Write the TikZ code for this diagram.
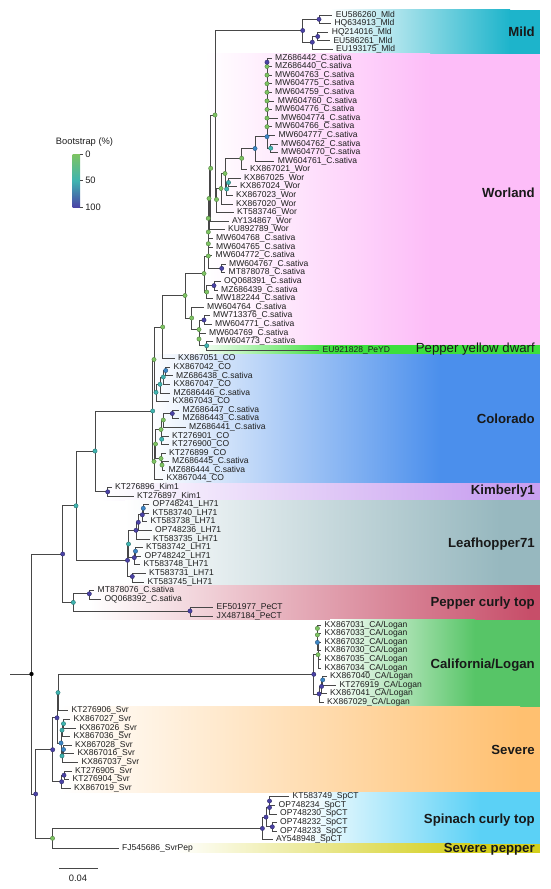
\documentclass[tikz,border=0pt]{standalone}
\usepackage{fontspec}
\setmainfont{Liberation Sans}
\definecolor{brc}{HTML}{474747}
\definecolor{txc}{HTML}{1E1E1E}
\definecolor{cG}{HTML}{7DC462}
\definecolor{cT}{HTML}{3FB4B0}
\definecolor{cB}{HTML}{3C86C6}
\definecolor{cP}{HTML}{4A42A6}
\definecolor{cMild}{HTML}{1DB4CB}
\definecolor{cWor}{HTML}{FDBDF8}
\definecolor{cPY}{HTML}{3CDF3C}
\definecolor{cCO}{HTML}{4B8FEC}
\definecolor{cKim}{HTML}{C9A0F0}
\definecolor{cLH}{HTML}{97B8BF}
\definecolor{cPC}{HTML}{C74E69}
\definecolor{cCA}{HTML}{57C567}
\definecolor{cSv}{HTML}{FFC070}
\definecolor{cSp}{HTML}{5BD1F6}
\definecolor{cSP}{HTML}{D3CF1C}
\newcommand\leaf[3]{\coordinate (t#1) at (#2,{15+8.59*#1});\node[leaflab] (n#1) at (t#1) {#3};}
\newcommand\band[5]{\shade[left color=white,right color=#5] (#3,#1) rectangle (#4,#2);\fill[#5] (#4-0.5,#1) rectangle (540,#2);}
\begin{document}
\begin{tikzpicture}[x=0.75pt,y=-0.75pt,
  br/.style={line width=0.5pt,draw=brc},
  leaflab/.style={anchor=west,inner sep=0pt,xshift=2.6pt,font=\fontsize{6.4}{7}\selectfont,text=txc},
  cladelab/.style={anchor=east,inner sep=0pt,font=\fontsize{9.9}{11}\selectfont\bfseries,text=black!90},
  legtxt/.style={inner sep=0pt,font=\fontsize{7}{8}\selectfont,text=txc},
  dotG/.style={fill=cG,draw=cG!65!black,line width=0.3pt},
  dotT/.style={fill=cT,draw=cT!65!black,line width=0.3pt},
  dotB/.style={fill=cB,draw=cB!65!black,line width=0.3pt},
  dotP/.style={fill=cP,draw=cP!65!black,line width=0.3pt}]
\useasboundingbox (0,0) rectangle (550,889);
% ---------- clade bands
\band{9.5}{53.7}{330}{510}{cMild}
\band{53.7}{345.2}{205}{430}{cWor}
\band{345.2}{354.3}{195}{330}{cPY}
\band{354.3}{483.2}{150}{440}{cCO}
\band{483.2}{500.4}{100}{500}{cKim}
\band{500.4}{585.1}{125}{500}{cLH}
\band{585.1}{619.7}{90}{530}{cPC}
\band{619.7}{706.5}{330}{475}{cCA}
\band{706.5}{792.4}{60}{520}{cSv}
\band{792.4}{843.9}{300}{480}{cSp}
\band{843.9}{852.5}{175}{470}{cSP}
% ---------- clade labels
\node[cladelab] (lMild) at (535,32) {Mild};
\node[cladelab] (lWor) at (535,193) {Worland};
\node[cladelab,font=\fontsize{9.9}{11}\selectfont] (lPY) at (535,349.5) {Pepper yellow dwarf};
\node[cladelab] (lCO) at (535,419) {Colorado};
\node[cladelab] (lKim) at (535,491.5) {Kimberly1};
\node[cladelab] (lLH) at (535,544) {Leafhopper71};
\node[cladelab] (lPC) at (535,603) {Pepper curly top};
\node[cladelab] (lCA) at (535,665) {California/Logan};
\node[cladelab] (lSv) at (535,750) {Severe};
\node[cladelab] (lSp) at (535,820) {Spinach curly top};
\node[cladelab] (lSP) at (535,849) {Severe pepper};
% ---------- leaves
\leaf{0}{332.2}{EU586260\_Mld}
\leaf{1}{330.8}{HQ634913\_Mld}
\leaf{2}{328.2}{HQ214016\_Mld}
\leaf{3}{329.8}{EU586261\_Mld}
\leaf{4}{332.5}{EU193175\_Mld}
\leaf{5}{271.5}{MZ686442\_C.sativa}
\leaf{6}{271.5}{MZ686440\_C.sativa}
\leaf{7}{271.5}{MW604763\_C.sativa}
\leaf{8}{271.5}{MW604775\_C.sativa}
\leaf{9}{271.5}{MW604759\_C.sativa}
\leaf{10}{274.2}{MW604760\_C.sativa}
\leaf{11}{271.5}{MW604776\_C.sativa}
\leaf{12}{277.5}{MW604774\_C.sativa}
\leaf{13}{271.5}{MW604766\_C.sativa}
\leaf{14}{274.8}{MW604777\_C.sativa}
\leaf{15}{277.5}{MW604762\_C.sativa}
\leaf{16}{277.5}{MW604770\_C.sativa}
\leaf{17}{274.2}{MW604761\_C.sativa}
\leaf{18}{246.5}{KX867021\_Wor}
\leaf{19}{240.5}{KX867025\_Wor}
\leaf{20}{236.5}{KX867024\_Wor}
\leaf{21}{232.5}{KX867023\_Wor}
\leaf{22}{232.5}{KX867020\_Wor}
\leaf{23}{233.5}{KT583746\_Wor}
\leaf{24}{228.5}{AY134867\_Wor}
\leaf{25}{224.5}{KU892789\_Wor}
\leaf{26}{212.5}{MW604768\_C.sativa}
\leaf{27}{212.5}{MW604765\_C.sativa}
\leaf{28}{212}{MW604772\_C.sativa}
\leaf{29}{225.5}{MW604767\_C.sativa}
\leaf{30}{225}{MT878078\_C.sativa}
\leaf{31}{220.5}{OQ068391\_C.sativa}
\leaf{32}{217.5}{MZ686439\_C.sativa}
\leaf{33}{212.5}{MW182244\_C.sativa}
\leaf{34}{203.5}{MW604764\_C.sativa}
\leaf{35}{209.5}{MW713376\_C.sativa}
\leaf{36}{211.5}{MW604771\_C.sativa}
\leaf{37}{205.5}{MW604769\_C.sativa}
\leaf{38}{212.5}{MW604773\_C.sativa}
\leaf{39}{319}{EU921828\_PeYD}
\leaf{40}{174.5}{KX867051\_CO}
\leaf{41}{170}{KX867042\_CO}
\leaf{42}{172.5}{MZ686438\_C.sativa}
\leaf{43}{170}{KX867047\_CO}
\leaf{44}{170}{MZ686446\_C.sativa}
\leaf{45}{169}{KX867043\_CO}
\leaf{46}{179}{MZ686447\_C.sativa}
\leaf{47}{179}{MZ686443\_C.sativa}
\leaf{48}{185.5}{MZ686441\_C.sativa}
\leaf{49}{168.5}{KT276901\_CO}
\leaf{50}{168.5}{KT276900\_CO}
\leaf{51}{165.5}{KT276899\_CO}
\leaf{52}{168.5}{MZ686445\_C.sativa}
\leaf{53}{165}{MZ686444\_C.sativa}
\leaf{54}{163}{KX867044\_CO}
\leaf{55}{111.5}{KT276896\_Kim1}
\leaf{56}{133.5}{KT276897\_Kim1}
\leaf{57}{149}{OP748241\_LH71}
\leaf{58}{149}{KT583740\_LH71}
\leaf{59}{147}{KT583738\_LH71}
\leaf{60}{151.5}{OP748236\_LH71}
\leaf{61}{149.5}{KT583735\_LH71}
\leaf{62}{142.5}{KT583742\_LH71}
\leaf{63}{141}{OP748242\_LH71}
\leaf{64}{140}{KT583748\_LH71}
\leaf{65}{145.5}{KT583731\_LH71}
\leaf{66}{144}{KT583745\_LH71}
\leaf{67}{94}{MT878076\_C.sativa}
\leaf{68}{100.8}{OQ068392\_C.sativa}
\leaf{69}{213}{EF501977\_PeCT}
\leaf{70}{213}{JX487184\_PeCT}
\leaf{71}{321}{KX867031\_CA/Logan}
\leaf{72}{321}{KX867033\_CA/Logan}
\leaf{73}{321}{KX867032\_CA/Logan}
\leaf{74}{321}{KX867030\_CA/Logan}
\leaf{75}{321}{KX867035\_CA/Logan}
\leaf{76}{321}{KX867034\_CA/Logan}
\leaf{77}{326.5}{KX867040\_CA/Logan}
\leaf{78}{336}{KT276919\_CA/Logan}
\leaf{79}{326.5}{KX867041\_CA/Logan}
\leaf{80}{323.5}{KX867029\_CA/Logan}
\leaf{81}{68}{KT276906\_Svr}
\leaf{82}{70}{KX867027\_Svr}
\leaf{83}{75.8}{KX867026\_Svr}
\leaf{84}{70}{KX867036\_Svr}
\leaf{85}{71.5}{KX867028\_Svr}
\leaf{86}{73.8}{KX867016\_Svr}
\leaf{87}{78}{KX867037\_Svr}
\leaf{88}{71.5}{KT276905\_Svr}
\leaf{89}{69}{KT276904\_Svr}
\leaf{90}{70.5}{KX867019\_Svr}
\leaf{91}{289}{KT583749\_SpCT}
\leaf{92}{275}{OP748234\_SpCT}
\leaf{93}{276.5}{OP748230\_SpCT}
\leaf{94}{276.5}{OP748232\_SpCT}
\leaf{95}{276.5}{OP748233\_SpCT}
\leaf{96}{272.5}{AY548948\_SpCT}
\leaf{97}{118.5}{FJ545686\_SvrPep}
% ---------- internal nodes
\coordinate (M) at (302.7,30.5);  \coordinate (M1) at (319,19.3);
\coordinate (M2) at (312.3,42.2); \coordinate (M3) at (317.7,36.5);
\coordinate (cm1) at (267,62.2);  \coordinate (ch6) at (267,66.5);
\coordinate (ch7) at (267,75.1);  \coordinate (ch8) at (267,83.7);
\coordinate (ch9) at (267,92.3);  \coordinate (ch10) at (267,100.9);
\coordinate (ch11) at (267,109.5);\coordinate (ch12) at (267,118.1);
\coordinate (ch13) at (267,126.7);\coordinate (C) at (267,136.7);
\coordinate (D) at (270.7,148.2); \coordinate (B1) at (255,148.5);
\coordinate (B0) at (241.7,158.3);\coordinate (N3) at (228.5,182.5);
\coordinate (N4) at (226.7,189);  \coordinate (N1) at (225,173.5);
\coordinate (N5) at (221,188.5);  \coordinate (WW) at (216.5,199.5);
\coordinate (W0) at (215,115);    \coordinate (X1) at (210.7,168.3);
\coordinate (W1) at (209,198.5);  \coordinate (Wu5) at (208.3,218.3);
\coordinate (Wu4) at (208.3,232); \coordinate (Wu3) at (208.3,243.7);
\coordinate (Wu1) at (208.3,256); \coordinate (K67) at (221.7,268.4);
\coordinate (Wu) at (204,273.5);  \coordinate (Wu2) at (206.7,292);
\coordinate (K31) at (214,285.6); \coordinate (Wcore) at (185,295.5);
\coordinate (Wl) at (191.7,318);  \coordinate (Wl5) at (199,329.5);
\coordinate (Wl3) at (204,320);   \coordinate (Wl6) at (199,339);
\coordinate (PY) at (206.7,345.7);\coordinate (Wtop) at (162.7,327);
\coordinate (WA) at (154,359.5);  \coordinate (G) at (156,392.3);
\coordinate (G1) at (160,384.3);  \coordinate (G2) at (163.3,377);
\coordinate (G3) at (165.7,370.5);\coordinate (CW) at (152.7,411);
\coordinate (CC) at (154,461.5);  \coordinate (Q2) at (155.5,444);
\coordinate (Q1) at (161,429.5);  \coordinate (CoB) at (163.3,420);
\coordinate (CoA) at (172.3,413.5);\coordinate (CoC) at (161.7,439.2);
\coordinate (Q5) at (161,458.5);  \coordinate (Q6) at (162,465);
\coordinate (C0) at (95,451);     \coordinate (Kim) at (107.7,491.8);
\coordinate (B) at (76,505.8);    \coordinate (LH) at (127.5,560.3);
\coordinate (LH1) at (128.5,544); \coordinate (LH3) at (136,530.3);
\coordinate (LH5) at (138.3,522.3);\coordinate (LH8) at (142.3,514.8);
\coordinate (LH7) at (143.3,508.3);\coordinate (LH4) at (134.3,557.6);
\coordinate (LH9) at (135.5,551.2);\coordinate (LH2) at (132.3,576.5);
\coordinate (A) at (62.7,554);    \coordinate (PC) at (73.3,602.4);
\coordinate (PC1) at (89.3,593.8);\coordinate (PC2) at (190,611);
\coordinate (R) at (31.5,674);    \coordinate (r0) at (10,674);
\coordinate (Z) at (35.7,794);    \coordinate (SV) at (52.7,749.7);
\coordinate (S1) at (57,717.8);   \coordinate (T) at (58,692.6);
\coordinate (CAL) at (313.8,674.3);\coordinate (U1) at (317.4,628.4);
\coordinate (U2) at (317.4,634.9);\coordinate (U3) at (317.4,642.4);
\coordinate (U4) at (318,654.7);  \coordinate (L1) at (322.7,679.9);
\coordinate (L2) at (321.6,686.4);\coordinate (L3) at (319.1,693.9);
\coordinate (S1b) at (61,743);    \coordinate (Sa) at (62,730.2);
\coordinate (Sa1) at (63.5,723.7);\coordinate (Sb) at (62,755.9);
\coordinate (Sb1) at (63.5,749.5);\coordinate (S2) at (61.7,781.7);
\coordinate (S2a) at (64,775.2);  \coordinate (SP) at (52.5,838.3);
\coordinate (SC) at (262.4,828.4);\coordinate (SP4) at (266,817.1);
\coordinate (SP2) at (269.5,807.5);\coordinate (SP1) at (269.5,801);
\coordinate (SP3) at (272.3,826.8);
% ---------- branches
\draw[br] (r0) -- (R);
\foreach \p/\c in {M/M1,M/M2,M1/t0,M1/t1,M2/M3,M2/t4,M3/t2,M3/t3,
  cm1/t5,ch6/cm1,ch6/t6,ch7/ch6,ch7/t7,ch8/ch7,ch8/t8,ch9/ch8,ch9/t9,ch10/ch9,ch10/t10,
  ch11/ch10,ch11/t11,ch12/ch11,ch12/t12,ch13/ch12,ch13/t13,C/ch13,C/t14,C/D,D/t15,D/t16,
  B1/C,B1/t17,B0/B1,B0/t18,N1/B0,N1/N4,N4/N3,N4/t21,N3/t19,N3/t20,N5/N1,N5/t22,WW/N5,WW/t23,
  W0/M,W0/WW,X1/W0,X1/t24,W1/X1,W1/t25,Wu5/W1,Wu5/t26,Wu4/Wu5,Wu4/t27,Wu3/Wu4,Wu3/t28,
  Wu1/Wu3,Wu1/K67,K67/t29,K67/t30,Wu/Wu1,Wu/Wu2,Wu2/K31,Wu2/t33,K31/t31,K31/t32,
  Wcore/Wu,Wcore/Wl,Wl/t34,Wl/Wl5,Wl5/Wl3,Wl5/Wl6,Wl3/t35,Wl3/t36,Wl6/t37,Wl6/PY,PY/t38,PY/t39,
  Wtop/Wcore,Wtop/t40,WA/Wtop,WA/G,G/G1,G/t45,G1/G2,G1/t44,G2/G3,G2/t43,G3/t41,G3/t42,
  CW/WA,CW/CC,CC/Q2,CC/t54,Q2/Q1,Q2/Q5,Q1/CoB,Q1/CoC,CoB/CoA,CoB/t48,CoA/t46,CoA/t47,
  CoC/t49,CoC/t50,Q5/t51,Q5/Q6,Q6/t52,Q6/t53,C0/CW,C0/Kim,Kim/t55,Kim/t56,
  B/C0,B/LH,LH/LH1,LH/LH2,LH1/LH3,LH1/LH4,LH3/LH5,LH3/t61,LH5/LH8,LH5/t60,LH8/LH7,LH8/t59,
  LH7/t57,LH7/t58,LH4/LH9,LH4/t64,LH9/t62,LH9/t63,LH2/t65,LH2/t66,
  A/B,A/PC,PC/PC1,PC/PC2,PC1/t67,PC1/t68,PC2/t69,PC2/t70,
  R/A,R/Z,Z/SV,Z/SP,SV/S1,SV/S2,S1/T,S1/S1b,T/CAL,T/t81,
  CAL/U4,CAL/L3,U4/U3,U4/t75,U4/t76,U3/U2,U3/t74,U2/U1,U2/t73,U1/t71,U1/t72,
  L3/L2,L3/t80,L2/L1,L2/t79,L1/t77,L1/t78,
  S1b/Sa,S1b/Sb,Sa/Sa1,Sa/t84,Sa1/t82,Sa1/t83,Sb/Sb1,Sb/t87,Sb1/t85,Sb1/t86,
  S2/S2a,S2/t90,S2a/t88,S2a/t89,
  SP/SC,SP/t97,SC/SP4,SC/t96,SP4/SP2,SP4/SP3,SP2/SP1,SP2/t93,SP1/t91,SP1/t92,SP3/t94,SP3/t95}
  \draw[br] (\p) |- (\c);
% ---------- bootstrap dots
\foreach \n in {ch6,ch7,ch8,ch9,ch10,ch11,ch12,ch13,B0,N1,N5,WW,W0,X1,W1,Wu5,Wu4,Wu3,Wu1,Wu,Wu2,
  Wcore,Wl,Wl5,Wl6,Wtop,WA,CoB,Q1,Q2,Q5,Q6,CC,U1,U2,U4,SP}
  \path[dotG] (\n) circle[radius=1.6pt];
\foreach \n in {D,N3,N4,PY,G,G1,G2,CW,CoC,C0,B,LH1,PC,T,Sa,Sa1,Sb}
  \path[dotT] (\n) circle[radius=1.6pt];
\foreach \n in {C,B1,G3,LH7,LH9,S1b,Sb1,U3,L1}
  \path[dotB] (\n) circle[radius=1.6pt];
\foreach \n in {M,M1,M2,M3,cm1,K67,K31,Wl3,CoA,Kim,LH,LH3,LH5,LH8,LH4,LH2,A,PC1,PC2,
  Z,SV,S1,S2,S2a,CAL,L2,L3,SC,SP4,SP2,SP1,SP3}
  \path[dotP] (\n) circle[radius=1.6pt];
\fill[black] (R) circle[radius=1.6pt];
% ---------- legend
\node[legtxt] (legt) at (84.5,141.7) {Bootstrap (\%)};
\shade[top color=cG,bottom color=cP,middle color=cT] (72.7,154) rectangle (80,207.3);
\coordinate (k0) at (80,154.3); \coordinate (k50) at (80,180.7); \coordinate (k100) at (80,206.9);
\foreach \k in {k0,k50,k100} \draw[line width=0.5pt,brc] (\k) -- ++(2.5,0);
\node[legtxt,anchor=west] (l0) at (85,154.3) {0};
\node[legtxt,anchor=west] (l50) at (85,180.7) {50};
\node[legtxt,anchor=west] (l100) at (85,206.9) {100};
% ---------- scale bar
\coordinate (sb1) at (59,868.3); \coordinate (sb2) at (97.5,868.3);
\draw[line width=0.6pt,brc] (sb1) -- (sb2);
\node[legtxt] (sbl) at (78,878) {0.04};
\end{tikzpicture}
\end{document}
